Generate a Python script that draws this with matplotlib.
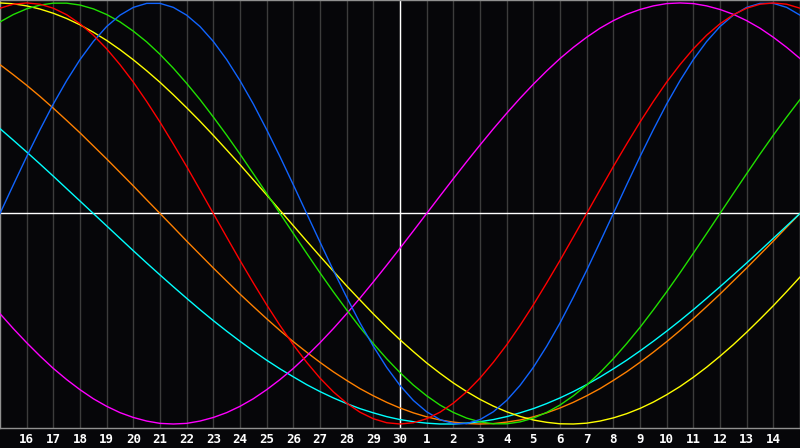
#!/usr/bin/env python3
# -*- coding: utf-8 -*-

import matplotlib
matplotlib.use("Agg")
import matplotlib.pyplot as plt

# day labels along the bottom (15th to 15th of the next month)
days = [15, 16, 17, 18, 19, 20, 21, 22, 23, 24, 25, 26, 27, 28, 29, 30,
        1, 2, 3, 4, 5, 6, 7, 8, 9, 10, 11, 12, 13, 14, 15]

# cycle values, every half day
physical = [0.0, 0.136, 0.27, 0.398, 0.52, 0.631, 0.731, 0.817, 0.888, 0.942, 0.979,
            0.998, 0.998, 0.979, 0.942, 0.888, 0.817, 0.731, 0.631, 0.52, 0.398, 0.27,
            0.136, 0.0, -0.136, -0.27, -0.398, -0.52, -0.631, -0.731, -0.817, -0.888,
            -0.942, -0.979, -0.998, -0.998, -0.979, -0.942, -0.888, -0.817, -0.731,
            -0.631, -0.52, -0.398, -0.27, -0.136, 0.0, 0.136, 0.27, 0.398, 0.52, 0.631,
            0.731, 0.817, 0.888, 0.942, 0.979, 0.998, 0.998, 0.979, 0.942]
emotional = [0.975, 0.994, 1.0, 0.994, 0.975, 0.944, 0.901, 0.847, 0.782, 0.707, 0.624,
             0.532, 0.434, 0.33, 0.223, 0.112, 0.0, -0.112, -0.223, -0.33, -0.434,
             -0.532, -0.624, -0.707, -0.782, -0.847, -0.901, -0.944, -0.975, -0.994,
             -1.0, -0.994, -0.975, -0.944, -0.901, -0.847, -0.782, -0.707, -0.624,
             -0.532, -0.434, -0.33, -0.223, -0.112, 0.0, 0.112, 0.223, 0.33, 0.434,
             0.532, 0.624, 0.707, 0.782, 0.847, 0.901, 0.944, 0.975, 0.994, 1.0, 0.994,
             0.975]
intellectual = [0.91, 0.945, 0.972, 0.99, 0.999, 0.999, 0.99, 0.972, 0.945, 0.91, 0.866,
                0.815, 0.756, 0.69, 0.618, 0.541, 0.458, 0.372, 0.282, 0.189, 0.095,
                0.0, -0.095, -0.189, -0.282, -0.372, -0.458, -0.541, -0.618, -0.69,
                -0.756, -0.815, -0.866, -0.91, -0.945, -0.972, -0.99, -0.999, -0.999,
                -0.99, -0.972, -0.945, -0.91, -0.866, -0.815, -0.756, -0.69, -0.618,
                -0.541, -0.458, -0.372, -0.282, -0.189, -0.095, 0.0, 0.095, 0.189,
                0.282, 0.372, 0.458, 0.541]
intuitive = [-0.476, -0.547, -0.614, -0.677, -0.736, -0.789, -0.837, -0.88, -0.916,
             -0.946, -0.969, -0.986, -0.997, -1.0, -0.997, -0.986, -0.969, -0.946,
             -0.916, -0.88, -0.837, -0.789, -0.736, -0.677, -0.614, -0.547, -0.476,
             -0.402, -0.325, -0.246, -0.165, -0.083, 0.0, 0.083, 0.165, 0.246, 0.325,
             0.402, 0.476, 0.547, 0.614, 0.677, 0.736, 0.789, 0.837, 0.88, 0.916, 0.946,
             0.969, 0.986, 0.997, 1.0, 0.997, 0.986, 0.969, 0.946, 0.916, 0.88, 0.837,
             0.789, 0.736]
aesthetic = [1.0, 0.996, 0.986, 0.971, 0.951, 0.926, 0.896, 0.861, 0.822, 0.778, 0.73,
             0.678, 0.623, 0.564, 0.502, 0.438, 0.371, 0.302, 0.232, 0.16, 0.088,
             0.015, -0.058, -0.131, -0.203, -0.274, -0.344, -0.411, -0.477, -0.54,
             -0.6, -0.656, -0.71, -0.759, -0.805, -0.846, -0.883, -0.915, -0.942,
             -0.964, -0.981, -0.992, -0.999, -1.0, -0.996, -0.986, -0.971, -0.951,
             -0.926, -0.896, -0.861, -0.822, -0.778, -0.73, -0.678, -0.623, -0.564,
             -0.502, -0.438, -0.371, -0.302]
awareness = [0.707, 0.659, 0.609, 0.556, 0.5, 0.442, 0.383, 0.321, 0.259, 0.195, 0.131,
             0.065, 0.0, -0.065, -0.131, -0.195, -0.259, -0.321, -0.383, -0.442, -0.5,
             -0.556, -0.609, -0.659, -0.707, -0.752, -0.793, -0.832, -0.866, -0.897,
             -0.924, -0.947, -0.966, -0.981, -0.991, -0.998, -1.0, -0.998, -0.991,
             -0.981, -0.966, -0.947, -0.924, -0.897, -0.866, -0.832, -0.793, -0.752,
             -0.707, -0.659, -0.609, -0.556, -0.5, -0.442, -0.383, -0.321, -0.259,
             -0.195, -0.131, -0.065, 0.0]
spiritual = [0.403, 0.348, 0.292, 0.235, 0.177, 0.118, 0.059, 0.0, -0.059, -0.118,
             -0.177, -0.235, -0.292, -0.348, -0.403, -0.457, -0.509, -0.559, -0.607,
             -0.653, -0.697, -0.738, -0.776, -0.813, -0.846, -0.876, -0.903, -0.927,
             -0.947, -0.965, -0.979, -0.989, -0.996, -1.0, -1.0, -0.996, -0.989,
             -0.979, -0.965, -0.947, -0.927, -0.903, -0.876, -0.846, -0.813, -0.777,
             -0.738, -0.697, -0.653, -0.607, -0.559, -0.509, -0.457, -0.403, -0.348,
             -0.292, -0.235, -0.177, -0.118, -0.059, 0.0]

series = [
    (awareness, "#ff8000"),
    (spiritual, "#00ffff"),
    (intuitive, "#ff00ff"),
    (aesthetic, "#ffff00"),
    (intellectual, "#20e000"),
    (physical, "#1064ff"),
    (emotional, "#ff0000"),
]

bg = "#060609"
fig = plt.figure(figsize=(8, 4.48), dpi=100, facecolor=bg)
ax = fig.add_axes([0, 20 / 448, 1, 428 / 448], facecolor=bg)

n = len(days)

# vertical day grid
for i in range(1, n - 1):
    ax.axvline(i, color="#3c3c3c", lw=1, zorder=1)

# center cross
ax.axhline(0, color="white", lw=1, zorder=2)
ax.axvline((n - 1) / 2, color="white", lw=1, zorder=2)

for vals, col in series:
    xs = [k * 0.5 for k in range(len(vals))]
    ax.plot(xs, vals, color=col, lw=1, zorder=3)

ax.set_xlim(0, n - 1)
ax.set_ylim(-1.019, 1.014)
ax.set_xticks([])
ax.set_yticks([])
for s in ax.spines.values():
    s.set_color("#909090")
    s.set_linewidth(1)

# day labels under the plot
for i in range(1, n - 1):
    ax.text(i, -1.019 - 0.055, str(days[i]), color="white", fontsize=9,
            fontweight="bold", family="DejaVu Sans Mono",
            ha="center", va="center", clip_on=False)

fig.savefig("out.png", dpi=100, facecolor=bg)
